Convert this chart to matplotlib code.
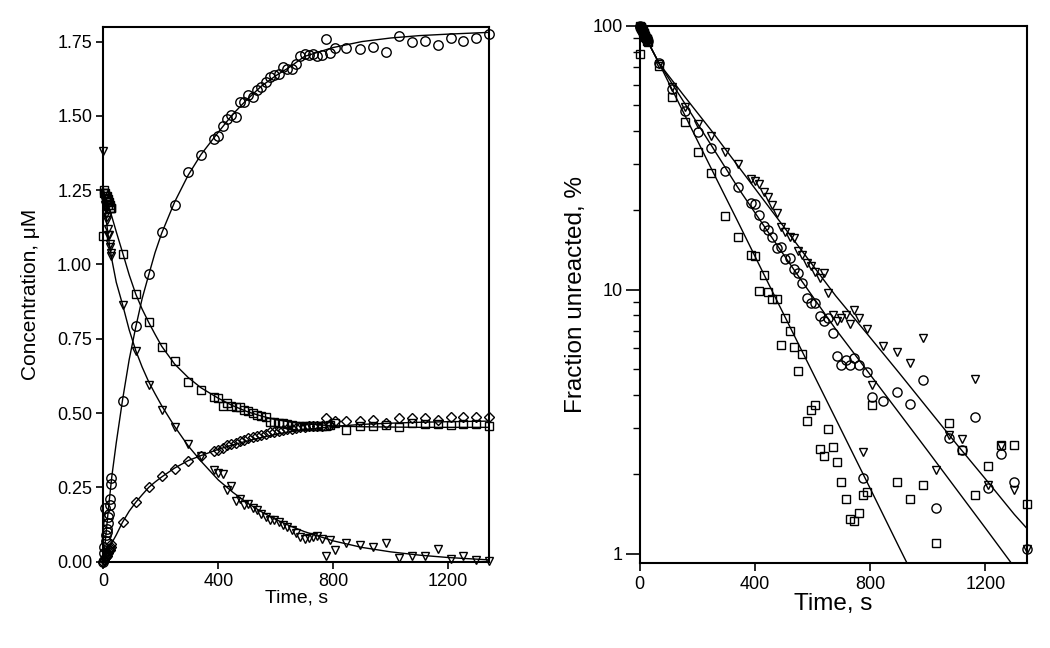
import matplotlib
matplotlib.use("Agg")
import matplotlib.pyplot as plt
import numpy as np

plt.rcParams['font.family'] = ['Liberation Sans', 'DejaVu Sans']

# sampling times (s) shared by every measured series
time_s = [0, 2, 4, 6, 8, 10, 12, 14, 16, 18, 20, 22, 24, 26, 28,
          67, 113, 158, 203, 248, 295, 340,
          385, 400, 415, 430, 445, 460, 475, 490, 505, 520, 535, 550, 565, 580,
          595, 610, 625, 640, 655, 670, 685, 700, 715, 730, 745, 760, 775, 790, 805,
          846, 892, 937, 983, 1028, 1073, 1118, 1163, 1208, 1253, 1298, 1343]

# left panel: concentrations (uM)
conc_circle = [0.00, 0.03, 0.05, 0.18, 0.07, 0.09, 0.11, 0.10, 0.13, 0.15, 0.16, 0.19, 0.21, 0.26, 0.28,
               0.542, 0.793, 0.967, 1.108, 1.199, 1.310, 1.368,
               1.423, 1.433, 1.465, 1.491, 1.502, 1.495, 1.547, 1.547, 1.569, 1.565, 1.588, 1.597, 1.614, 1.632,
               1.639, 1.642, 1.666, 1.659, 1.659, 1.676, 1.701, 1.707, 1.704, 1.707, 1.701, 1.704, 1.760, 1.711, 1.728,
               1.729, 1.725, 1.732, 1.715, 1.769, 1.749, 1.752, 1.738, 1.762, 1.752, 1.761, 1.776]
conc_square = [1.095, 1.25, 1.24, 1.24, 1.23, 1.22, 1.23, 1.21, 1.22, 1.20, 1.21, 1.19, 1.20, 1.19, 1.19,
               1.036, 0.901, 0.806, 0.723, 0.674, 0.604, 0.576,
               0.555, 0.551, 0.525, 0.535, 0.525, 0.521, 0.521, 0.510, 0.507, 0.500, 0.493, 0.489, 0.486, 0.469,
               0.469, 0.465, 0.465, 0.462, 0.460, 0.458, 0.457, 0.456, 0.455, 0.455, 0.456, 0.455, 0.458, 0.460, 0.465,
               0.444, 0.456, 0.456, 0.461, 0.452, 0.467, 0.464, 0.464, 0.461, 0.464, 0.464, 0.456]
conc_triangle = [1.383, 1.24, 1.22, 1.20, 1.19, 1.17, 1.16, 1.15, 1.12, 1.10, 1.10, 1.07, 1.06, 1.04, 1.03,
                 0.865, 0.708, 0.593, 0.509, 0.452, 0.396, 0.354,
                 0.307, 0.300, 0.295, 0.242, 0.255, 0.205, 0.210, 0.190, 0.195, 0.180, 0.175, 0.160, 0.150, 0.140,
                 0.140, 0.135, 0.125, 0.118, 0.105, 0.095, 0.082, 0.078, 0.080, 0.083, 0.088, 0.075, 0.018, 0.072, 0.038,
                 0.062, 0.056, 0.051, 0.064, 0.011, 0.020, 0.020, 0.042, 0.009, 0.019, 0.006, 0.001]
conc_diamond = [0.000, 0.005, 0.010, 0.012, 0.015, 0.020, 0.020, 0.025, 0.030, 0.035, 0.040, 0.040, 0.045, 0.050, 0.060,
                0.135, 0.202, 0.251, 0.287, 0.313, 0.340, 0.357,
                0.372, 0.377, 0.383, 0.392, 0.395, 0.400, 0.405, 0.408, 0.415, 0.418, 0.422, 0.425, 0.430, 0.435,
                0.437, 0.440, 0.443, 0.447, 0.448, 0.450, 0.452, 0.453, 0.455, 0.455, 0.457, 0.457, 0.482, 0.460, 0.472,
                0.472, 0.472, 0.476, 0.468, 0.484, 0.484, 0.484, 0.478, 0.486, 0.486, 0.486, 0.486]

# left panel: fitted curves
fit_t_left = [0, 10, 20, 30, 45, 67, 90, 113, 135, 158, 180, 203, 248, 295, 340,
              400, 450, 500, 550, 600, 650, 700, 800, 900, 1000, 1100, 1200, 1343]
fit_circle = [0.0, 0.10, 0.20, 0.29, 0.40, 0.545, 0.68, 0.79, 0.885, 0.965, 1.04, 1.105, 1.21, 1.30, 1.37,
              1.445, 1.505, 1.555, 1.60, 1.635, 1.665, 1.70, 1.73, 1.75, 1.762, 1.770, 1.775, 1.781]
fit_square = [1.25, 1.22, 1.19, 1.16, 1.11, 1.04, 0.965, 0.90, 0.85, 0.805, 0.765, 0.725, 0.665, 0.62, 0.585,
              0.55, 0.525, 0.505, 0.49, 0.478, 0.47, 0.464, 0.457, 0.454, 0.453, 0.452, 0.452, 0.452]
fit_triangle = [1.26, 1.15, 1.075, 1.015, 0.94, 0.865, 0.78, 0.71, 0.655, 0.605, 0.565, 0.525, 0.455, 0.39, 0.338,
                0.275, 0.234, 0.198, 0.168, 0.142, 0.120, 0.101, 0.070, 0.048, 0.033, 0.022, 0.014, 0.006]
fit_diamond = [0.0, 0.022, 0.043, 0.064, 0.09, 0.133, 0.17, 0.20, 0.225, 0.25, 0.268, 0.285, 0.315, 0.34, 0.357,
               0.378, 0.393, 0.406, 0.418, 0.428, 0.437, 0.444, 0.455, 0.462, 0.466, 0.469, 0.471, 0.473]

# right panel: fraction unreacted (%), None = off scale
pct_triangle = [None, 99, 99, 97, 97, 96, 95, 94, 93, 92, 91, 90, 89, 88, 87,
                72, 58.6, 49.4, 42.6, 38.3, 33.4, 30.0,
                26.3, 25.8, 25.2, 23.5, 22.4, 21.0, 19.5, 17.3, 16.5, 15.8, 15.7, 14.0, 13.6, 12.6,
                12.3, 11.7, 11.1, 11.6, 9.76, 8.0, 7.6, 7.8, 8.0, 7.4, 8.4, 7.8, 2.44, 7.1, 4.37,
                6.15, 5.79, 5.27, 6.55, 2.07, 2.82, 2.72, 4.58, 1.82, 2.56, 1.75, 1.04]
pct_circle = [100, 99, 98, 97, 96, 96, 95, 94, 93, 92, 91, 90, 90, 89, 88,
              72.2, 57.5, 47.8, 39.6, 34.6, 28.1, 24.6,
              21.4, 21.1, 19.2, 17.5, 16.9, 15.8, 14.4, 14.5, 13.1, 13.2, 12.0, 11.6, 10.6, 9.3,
              8.9, 8.9, 7.98, 7.64, 7.8, 6.84, 5.6, 5.2, 5.4, 5.2, 5.5, 5.2, 1.94, 4.9, 3.93,
              3.78, 4.11, 3.69, 4.56, 1.49, 2.75, 2.47, 3.29, 1.77, 2.39, 1.87, 1.04]
pct_square = [78, 100, 99, 98, 97, 96, 95, 94, 93, 92, 91, 90, 89, 88, 87,
              70.5, 54.0, 43.2, 33.2, 27.7, 19.1, 15.8,
              13.5, 13.4, 9.9, 11.4, 9.85, 9.2, 9.2, 6.2, 7.8, 7.0, 6.1, 4.94, 5.7, 3.18,
              3.51, 3.66, 2.49, 2.34, 2.96, 2.53, 2.22, 1.87, 1.61, 1.36, 1.33, 1.43, 1.67, 1.72, 3.66,
              None, 1.87, 1.61, 1.82, 1.10, 3.12, 2.47, 1.67, 2.15, 2.58, 2.58, 1.55]

# right panel: fitted lines
fit_t_right = [0, 68, 150, 250, 340, 450, 560, 680, 790, 900, 1000, 1100, 1200, 1300, 1343]
fit_pct_triangle = [100, 72, 55.1, 40.0, 29.6, 20.5, 14.2, 9.5, 6.8, 4.85, 3.55, 2.6, 1.92, 1.41, 1.25]
fit_pct_circle = [100, 72, 52.2, 35.1, 24.5, 16.3, 10.9, 7.1, 4.93, 3.42, 2.45, 1.75, 1.25, 0.89, 0.78]
fit_pct_square = [100, 72, 47.5, 28.6, 18.2, 10.4, 5.96, 3.25, 1.86, 1.06, 0.64, 0.38, 0.23, 0.14, 0.11]

x_ticks = [0, 400, 800, 1200]
left_yticks = [0.0, 0.25, 0.5, 0.75, 1.0, 1.25, 1.5, 1.75]
right_yticks = [1, 10, 100]


def arr(v):
    return np.array([np.nan if x is None else x for x in v], dtype=float)


mk = dict(linestyle='none', markerfacecolor='none', markeredgecolor='k',
          markeredgewidth=1.0, clip_on=False)

fig = plt.figure(figsize=(10.5, 6.48), dpi=100)

# ---- left panel
ax1 = fig.add_axes([0.0984, 0.1332, 0.3676, 0.8256])
for yy in (fit_circle, fit_square, fit_triangle, fit_diamond):
    ax1.plot(fit_t_left, yy, color='k', lw=1.0)
ax1.plot(time_s, arr(conc_circle), marker='o', ms=6.8, **mk)
ax1.plot(time_s, arr(conc_square), marker='s', ms=5.4, **mk)
ax1.plot(time_s, arr(conc_triangle), marker='v', ms=6.4, **mk)
ax1.plot(time_s, arr(conc_diamond), marker='D', ms=5.0, **mk)

ax1.set_xlim(0, 1343)
ax1.set_ylim(0, 1.80)
ax1.set_xticks(x_ticks)
ax1.set_yticks(left_yticks)
ax1.set_yticklabels(['%.2f' % v for v in left_yticks])
ax1.tick_params(direction='out', length=5, width=1.2, labelsize=13, pad=3)
ax1.set_xlabel('Time, s', fontsize=14, labelpad=0)
ax1.set_ylabel('Concentration, μM', fontsize=15, labelpad=12)

# ---- right panel
ax2 = fig.add_axes([0.6092, 0.1307, 0.3686, 0.8292])
ax2.set_yscale('log')
for yy in (fit_pct_triangle, fit_pct_circle, fit_pct_square):
    ax2.plot(fit_t_right, yy, color='k', lw=1.0)
ax2.plot(time_s, arr(pct_triangle), marker='v', ms=6.2, **mk)
ax2.plot(time_s, arr(pct_circle), marker='o', ms=6.6, **mk)
ax2.plot(time_s, arr(pct_square), marker='s', ms=5.4, **mk)

ax2.set_xlim(0, 1343)
ax2.set_ylim(0.92, 100)
ax2.set_xticks(x_ticks)
ax2.set_yticks(right_yticks)
ax2.set_yticklabels([str(v) for v in right_yticks])
ax2.yaxis.set_minor_locator(matplotlib.ticker.LogLocator(base=10, subs=range(2, 10)))
ax2.yaxis.set_minor_formatter(matplotlib.ticker.NullFormatter())
ax2.tick_params(axis='x', direction='out', length=6, width=1.2, labelsize=13, pad=3)
ax2.tick_params(axis='y', which='major', direction='out', length=10, width=1.2, labelsize=13, pad=2)
ax2.tick_params(axis='y', which='minor', direction='out', length=5, width=1.0)
ax2.set_xlabel('Time, s', fontsize=17.5, labelpad=0)
ax2.set_ylabel('Fraction unreacted, %', fontsize=17.5, labelpad=4)

for ax in (ax1, ax2):
    for sp in ax.spines.values():
        sp.set_linewidth(1.5)

fig.savefig('out.png', dpi=100)
